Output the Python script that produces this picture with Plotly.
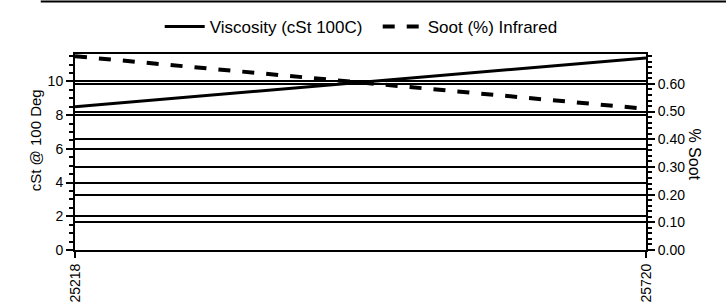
import plotly.graph_objects as go

# Data
x_vals = [25218, 25720]
x_labels = ["25218", "25720"]
viscosity = [8.5, 11.4]
soot = [0.70, 0.51]

left_ticks = [0, 2, 4, 6, 8, 10]
right_ticks = [0.0, 0.1, 0.2, 0.3, 0.4, 0.5, 0.6]
right_labels = ["0.00", "0.10", "0.20", "0.30", "0.40", "0.50", "0.60"]

FONT = "Liberation Sans, Arial, sans-serif"

fig = go.Figure()
fig.add_trace(go.Scatter(x=x_vals, y=viscosity, mode="lines", name="Viscosity (cSt 100C)",
                         line=dict(color="black", width=3), yaxis="y"))
fig.add_trace(go.Scatter(x=x_vals, y=soot, mode="lines", name="Soot (%) Infrared",
                         line=dict(color="black", width=4, dash="dash"), yaxis="y2"))

fig.update_layout(
    width=726, height=306,
    margin=dict(l=75, r=80, t=54, b=56, autoexpand=False),
    paper_bgcolor="white", plot_bgcolor="white",
    font=dict(family=FONT, color="black", size=14),
    showlegend=True,
    legend=dict(orientation="h", xref="container", yref="container",
                x=0.220, xanchor="left", y=0.912, yanchor="middle",
                font=dict(size=17), bgcolor="rgba(0,0,0,0)", itemwidth=40, tracegroupgap=0,
                entrywidth=163, entrywidthmode="pixels"),
    xaxis=dict(range=[x_vals[0], x_vals[1]], tickvals=x_vals, ticktext=x_labels,
               tickangle=-90, showgrid=False, zeroline=False, automargin=False,
               showline=True, linecolor="black", linewidth=2, mirror=True,
               ticks="outside", ticklen=6, tickcolor="black", tickwidth=2,
               tickfont=dict(size=14)),
    yaxis=dict(range=[0, 11.63], tickvals=left_ticks, showgrid=True, automargin=False,
               gridcolor="black", gridwidth=1.5, zeroline=False,
               showline=True, linecolor="black", linewidth=2,
               ticks="outside", ticklen=7, tickcolor="black", tickwidth=2,
               minor=dict(dtick=0.5, ticklen=4, tickcolor="black", tickwidth=1.5, ticks="outside", showgrid=False),
               tickfont=dict(size=14)),
    yaxis2=dict(range=[0, 0.708], tickvals=right_ticks, ticktext=right_labels,
                overlaying="y", side="right", showgrid=True, automargin=False,
                gridcolor="black", gridwidth=1.5, zeroline=False,
                showline=True, linecolor="black", linewidth=2,
                ticks="outside", ticklen=7, tickcolor="black", tickwidth=2,
                minor=dict(dtick=0.02, ticklen=4, tickcolor="black", tickwidth=1.5, ticks="outside", showgrid=False),
                tickfont=dict(size=14)),
    annotations=[
        dict(text="cSt @ 100 Deg", xref="paper", yref="paper", x=-0.07, y=0.56,
             xanchor="center", yanchor="middle", textangle=-90, showarrow=False,
             font=dict(size=15)),
        dict(text="% Soot", xref="paper", yref="paper", x=1.085, y=0.49,
             xanchor="center", yanchor="middle", textangle=90, showarrow=False,
             font=dict(size=16)),
    ],
    shapes=[
        dict(type="line", xref="paper", yref="paper", x0=-0.06, x1=1.15, y0=1.268, y1=1.268,
             line=dict(color="black", width=2)),
    ],
)

fig.write_html("out.html", config={"displayModeBar": False},
               post_script="document.body.style.margin='0';document.body.style.overflow='hidden';")
